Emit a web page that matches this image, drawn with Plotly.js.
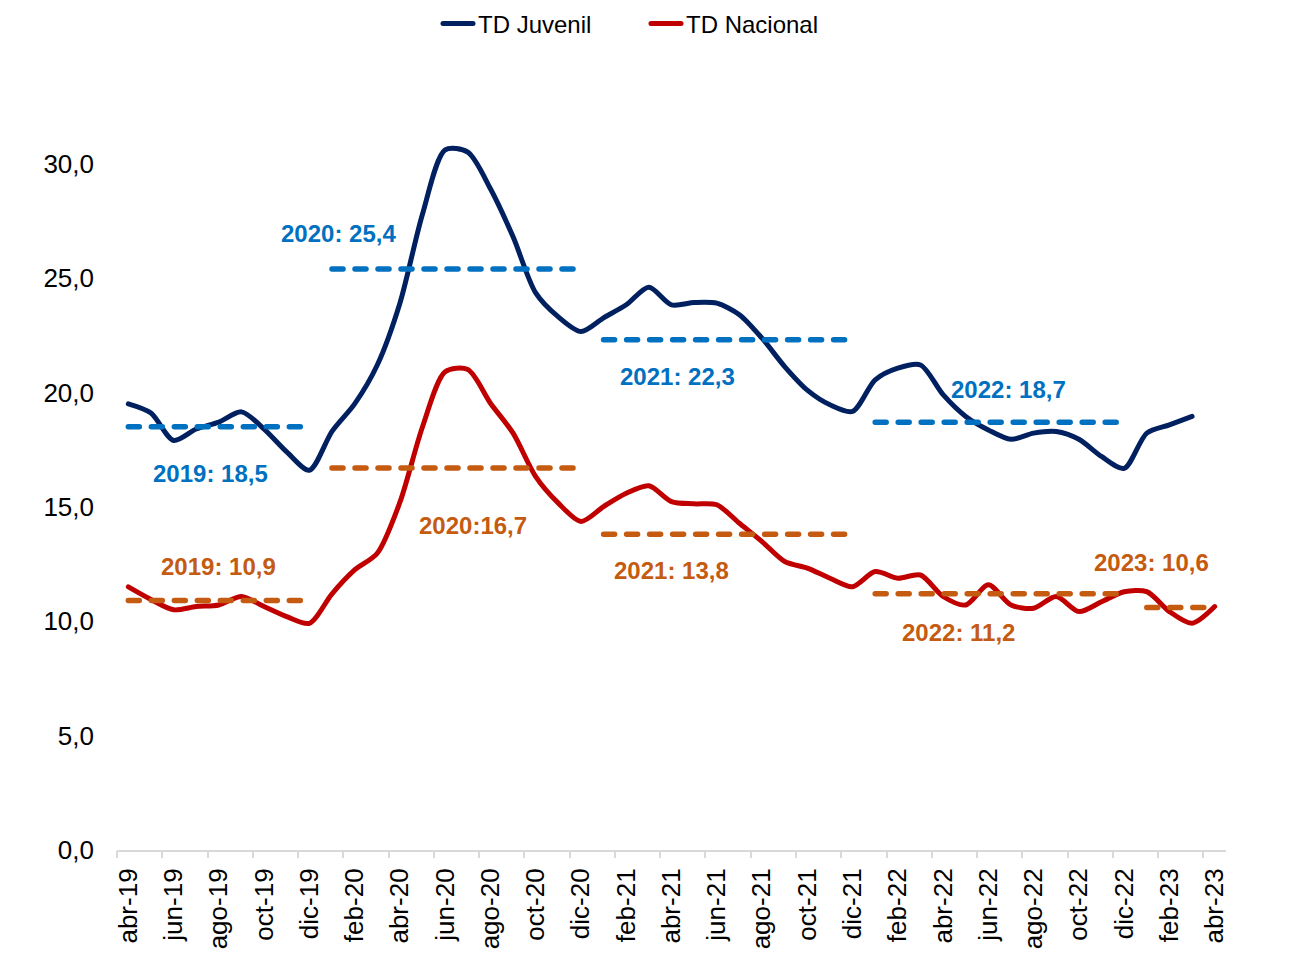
<!DOCTYPE html>
<html>
<head>
<meta charset="utf-8">
<script src="https://cdn.plot.ly/plotly-3.0.1.min.js"></script>
<style>
  html, body { margin: 0; padding: 0; background: #fff; }
  #chart { width: 1292px; height: 957px; }
  #chart path.js-line { stroke-linecap: round !important; stroke-linejoin: round !important; }
</style>
</head>
<body>
<div id="chart"></div>
<script>
// ---- Data ----
const months = ['abr-19','may-19','jun-19','jul-19','ago-19','sep-19','oct-19','nov-19','dic-19',
  'ene-20','feb-20','mar-20','abr-20','may-20','jun-20','jul-20','ago-20','sep-20','oct-20','nov-20','dic-20',
  'ene-21','feb-21','mar-21','abr-21','may-21','jun-21','jul-21','ago-21','sep-21','oct-21','nov-21','dic-21',
  'ene-22','feb-22','mar-22','abr-22','may-22','jun-22','jul-22','ago-22','sep-22','oct-22','nov-22','dic-22',
  'ene-23','feb-23','mar-23','abr-23'];

const tdJuvenil = [19.5, 19.1, 17.9, 18.4, 18.7, 19.15, 18.4, 17.4, 16.6,
  18.3, 19.5, 21.2, 23.9, 27.8, 30.6, 30.5, 28.9, 26.8, 24.35, 23.3, 22.66,
  23.26, 23.83, 24.6, 23.83, 23.93, 23.9, 23.4, 22.37, 21.13, 20.1, 19.46, 19.17,
  20.55, 21.06, 21.2, 19.9, 18.95, 18.36, 17.95, 18.22, 18.29, 17.95, 17.2, 16.68,
  18.22, 18.58, 18.95, null];

const tdNacional = [11.5, 10.95, 10.5, 10.64, 10.71, 11.08, 10.64, 10.2, 9.91,
  11.2, 12.24, 12.97, 15.2, 18.5, 20.9, 21.0, 19.53, 18.22, 16.32, 15.16, 14.36,
  15.01, 15.59, 15.92, 15.23, 15.13, 15.09, 14.28, 13.48, 12.61, 12.32, 11.88, 11.51,
  12.17, 11.88, 12.02, 11.08, 10.71, 11.59, 10.71, 10.57, 11.08, 10.42, 10.85, 11.29,
  11.29, 10.42, 9.91, 10.64];

const years = ['19', '20', '21', '22', '23'];
const avgJuvenil = [18.5, 25.4, 22.3, 18.7, null];
const avgNacional = [10.9, 16.7, 13.8, 11.2, 10.6];

const yTicks = [0, 5, 10, 15, 20, 25, 30];

// ---- Helpers ----
const idx = months.map((_, i) => i);
const fmt = v => v.toFixed(1).replace('.', ',');
const labelIdx = idx.filter(i => i % 2 === 0);

const FONT = 'Liberation Sans, Arial, sans-serif';
const NAVY = '#002060', RED = '#C00000', BLUE = '#0070C0', ORANGE = '#C55A11';

const traces = [];
traces.push({
  x: idx, y: tdJuvenil, type: 'scatter', mode: 'lines', name: 'TD Juvenil',
  line: {color: NAVY, width: 5, shape: 'spline', smoothing: 0.8}, connectgaps: false, hoverinfo: 'skip'
});
traces.push({
  x: idx, y: tdNacional, type: 'scatter', mode: 'lines', name: 'TD Nacional',
  line: {color: RED, width: 5, shape: 'spline', smoothing: 0.8}, hoverinfo: 'skip'
});

years.forEach((yr, k) => {
  const xs = idx.filter(i => months[i].endsWith('-' + yr));
  if (avgJuvenil[k] !== null) {
    traces.push({
      x: xs, y: xs.map(() => avgJuvenil[k]), type: 'scatter', mode: 'lines', showlegend: false,
      line: {color: BLUE, width: 5.5, dash: '11px,12px'}, hoverinfo: 'skip'
    });
  }
  if (avgNacional[k] !== null) {
    traces.push({
      x: xs, y: xs.map(() => avgNacional[k]), type: 'scatter', mode: 'lines', showlegend: false,
      line: {color: ORANGE, width: 5.5, dash: '11px,12px'}, hoverinfo: 'skip'
    });
  }
});

// hidden trace to carry the tick-mark axis
traces.push({x: [], y: [], xaxis: 'x2', type: 'scatter', mode: 'lines', showlegend: false, hoverinfo: 'skip'});

// ---- Annotations (labels for averages and last values) ----
const annFont = (c) => ({family: FONT, size: 24, color: c, weight: 'bold'});
const ann = [];
const addAnn = (x, y, text, color) => ann.push({x, y, xref: 'x', yref: 'y', text, showarrow: false,
  xanchor: 'center', yanchor: 'middle', font: annFont(color)});

addAnn(3.61, 16.45, '2019: ' + fmt(avgJuvenil[0]), BLUE);
addAnn(9.27, 26.95, '2020: ' + fmt(avgJuvenil[1]), BLUE);
addAnn(24.25, 20.68, '2021: ' + fmt(avgJuvenil[2]), BLUE);
addAnn(38.87, 20.12, '2022: ' + fmt(avgJuvenil[3]), BLUE);
addAnn(4.0, 12.4, '2019: ' + fmt(avgNacional[0]), ORANGE);
addAnn(15.23, 14.2, '2020:' + fmt(avgNacional[1]), ORANGE);
addAnn(23.98, 12.22, '2021: ' + fmt(avgNacional[2]), ORANGE);
addAnn(36.66, 9.52, '2022: ' + fmt(avgNacional[3]), ORANGE);
addAnn(45.19, 12.55, '2023: ' + fmt(avgNacional[4]), ORANGE);
addAnn(49.03, 19.65, fmt(19.0), NAVY);
addAnn(49.2, 11.1, fmt(10.6), RED);

const layout = {
  width: 1292, height: 957,
  margin: {l: 117, r: 66, t: 95, b: 107},
  paper_bgcolor: '#fff', plot_bgcolor: '#fff',
  font: {family: FONT, color: '#000'},
  showlegend: true,
  legend: {
    orientation: 'h', xref: 'container', yref: 'container', x: 0.5, y: 0.975,
    xanchor: 'center', yanchor: 'middle',
    font: {family: FONT, size: 24, color: '#000'},
    itemwidth: 30, entrywidth: 163, traceorder: 'normal', bgcolor: 'rgba(0,0,0,0)'
  },
  xaxis: {
    range: [-0.5, 48.5], showgrid: false, zeroline: false,
    showline: true, linecolor: '#D9D9D9', linewidth: 2,
    tickmode: 'array', tickvals: labelIdx, ticktext: labelIdx.map(i => months[i]),
    ticks: '', tickangle: -90, ticklabelstandoff: 6,
    tickfont: {family: FONT, size: 26, color: '#000'}
  },
  xaxis2: {
    overlaying: 'x', matches: 'x', anchor: 'y', side: 'bottom',
    showgrid: false, zeroline: false, showline: false,
    tickmode: 'array', tickvals: labelIdx.map(i => i - 0.5),
    ticks: 'outside', ticklen: 7, tickwidth: 2, tickcolor: '#D9D9D9',
    showticklabels: false
  },
  yaxis: {
    range: [0, 33], showgrid: false, zeroline: false, showline: false,
    tickmode: 'array', tickvals: yTicks, ticktext: yTicks.map(fmt),
    ticks: '', ticklabelstandoff: 22,
    tickfont: {family: FONT, size: 26, color: '#000'}
  },
  annotations: ann
};

Plotly.newPlot('chart', traces, layout, {staticPlot: true});
</script>
</body>
</html>
